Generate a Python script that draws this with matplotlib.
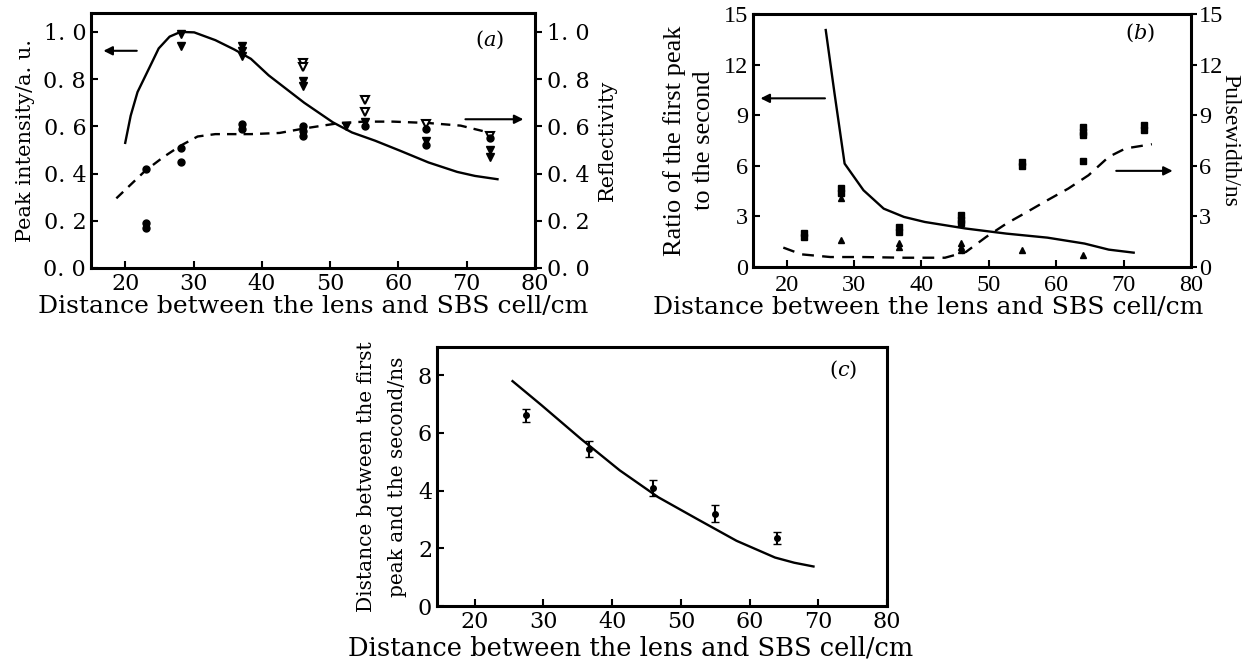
import matplotlib.pyplot as plt

plt.rcParams['font.family'] = 'DejaVu Serif'
plt.rcParams['mathtext.fontset'] = 'dejavuserif'

# ---------- (a) data ----------
a_fit_x = [20, 20.8, 21.8, 23.9, 24.9, 26.5, 28.1, 30.1, 33.2, 36.0, 38.4, 41.0, 46.2, 50.4, 53.2, 56.6, 60.3, 64.4, 68.6, 71.2, 74.5]
a_fit_peak = [0.53, 0.645, 0.745, 0.87, 0.93, 0.98, 1.0, 0.998, 0.965, 0.925, 0.886, 0.816, 0.70, 0.617, 0.574, 0.539, 0.496, 0.447, 0.407, 0.39, 0.376]
a_fit_rx = [18.7, 22.9, 25.5, 28.1, 30.6, 33.2, 38.4, 42.6, 46.2, 51.4, 55.1, 59.2, 64.4, 69.1, 73.2]
a_fit_refl = [0.295, 0.411, 0.468, 0.518, 0.557, 0.567, 0.567, 0.572, 0.591, 0.614, 0.62, 0.62, 0.614, 0.603, 0.574]

a_peak_x = [28.1, 28.1, 37.1, 37.1, 37.1, 46.0, 46.0, 52.3, 55.1, 64.0, 73.4, 73.4]
a_peak_y = [0.99, 0.94, 0.94, 0.92, 0.90, 0.79, 0.77, 0.60, 0.62, 0.54, 0.50, 0.47]
a_open_x = [46.0, 46.0, 55.1, 55.1, 64.0, 73.4]
a_open_y = [0.87, 0.85, 0.71, 0.66, 0.61, 0.56]
a_refl_x = [23.0, 23.0, 23.0, 28.1, 28.1, 37.1, 37.1, 46.0, 46.0, 46.0, 55.1, 64.0, 64.0, 73.4]
a_refl_y = [0.42, 0.19, 0.17, 0.51, 0.45, 0.61, 0.59, 0.60, 0.58, 0.56, 0.60, 0.59, 0.52, 0.55]

# ---------- (b) data ----------
b_fit_x = [25.8, 27.1, 28.6, 31.4, 34.4, 37.4, 40.5, 46.6, 52.6, 58.7, 64.2, 67.8, 71.5]
b_fit_ratio = [14.05, 10.3, 6.13, 4.55, 3.46, 2.97, 2.67, 2.28, 1.98, 1.74, 1.39, 1.03, 0.85]
b_fit_px = [19.5, 22.2, 26.5, 31.4, 37.4, 43.5, 46.6, 49.6, 52.6, 55.7, 58.7, 61.8, 64.8, 67.8, 70.3, 74.2]
b_fit_pulse = [1.15, 0.75, 0.59, 0.59, 0.55, 0.55, 0.89, 1.78, 2.57, 3.27, 3.96, 4.65, 5.44, 6.53, 7.03, 7.28]

b_ratio_x = [22.5, 22.5, 28.0, 28.0, 36.6, 36.6, 45.8, 45.8, 45.8, 55.0, 55.0, 64.0, 64.0, 64.0, 64.0, 73.1, 73.1]
b_ratio_y = [2.0, 1.8, 4.7, 4.4, 2.4, 2.1, 3.1, 2.8, 2.6, 6.2, 6.0, 8.3, 8.0, 7.8, 6.3, 8.4, 8.1]
b_pulse_x = [28.0, 28.0, 36.6, 36.6, 45.8, 45.8, 45.8, 55.0, 64.0]
b_pulse_y = [4.1, 1.6, 1.4, 1.2, 1.4, 1.2, 1.0, 1.0, 0.7]

# ---------- (c) data ----------
c_fit_x = [25.5, 29.7, 35.4, 41.1, 46.7, 52.4, 58.1, 63.7, 66.5, 69.3]
c_fit_y = [7.79, 6.96, 5.80, 4.70, 3.77, 3.01, 2.26, 1.68, 1.50, 1.37]
c_x = [27.5, 36.7, 46.0, 55.0, 64.0]
c_y = [6.6, 5.45, 4.1, 3.2, 2.35]
c_err = [0.22, 0.28, 0.28, 0.3, 0.2]

xlab = "Distance between the lens and SBS cell/cm"
a_ticks = ["0. 0", "0. 2", "0. 4", "0. 6", "0. 8", "1. 0"]

fig = plt.figure(figsize=(12.56, 6.64), dpi=100)


def style(ax, fs=16):
    for s in ax.spines.values():
        s.set_linewidth(2.2)
    ax.tick_params(direction='in', width=1.5, length=5, labelsize=fs)


def arrow(ax, x0, x1, y):
    ax.annotate("", xy=(x1, y), xytext=(x0, y),
                arrowprops=dict(arrowstyle='-|>', color='black', lw=1.5, mutation_scale=13))


# ---------- (a) ----------
ax = fig.add_axes([0.0725, 0.5964, 0.3535, 0.384])
ax.plot(a_fit_x, a_fit_peak, color='black', lw=1.7)
ax.plot(a_fit_rx, a_fit_refl, color='black', lw=1.7, ls=(0, (4, 3)))
ax.plot(a_peak_x, a_peak_y, 'v', color='black', ms=6)
ax.plot(a_open_x, a_open_y, 'v', mfc='white', mec='black', mew=1.5, ms=6)
ax.plot(a_refl_x, a_refl_y, 'o', color='black', ms=5)
ax.set_xlim(15, 80)
ax.set_ylim(0, 1.08)
ax.set_xticks([20, 30, 40, 50, 60, 70, 80])
ax.set_yticks([0, 0.2, 0.4, 0.6, 0.8, 1.0])
ax.set_yticklabels(a_ticks)
style(ax)
ax.set_xlabel(xlab, fontsize=18, labelpad=0)
ax.set_ylabel("Peak intensity/a. u.", fontsize=15, labelpad=6)
arrow(ax, 22.1, 16.4, 0.92)
arrow(ax, 69.4, 78.7, 0.63)
ax.text(73.4, 0.966, "($a$)", fontsize=15, ha='center', va='center')
axr = ax.twinx()
axr.set_ylim(0, 1.08)
axr.set_yticks([0, 0.2, 0.4, 0.6, 0.8, 1.0])
axr.set_yticklabels(a_ticks)
axr.tick_params(direction='out', width=1.5, length=5, labelsize=16)
axr.set_ylabel("Reflectivity", fontsize=15, rotation=90, labelpad=6)

# ---------- (b) ----------
bx = fig.add_axes([0.5995, 0.5979, 0.3487, 0.381])
bx.plot(b_fit_x, b_fit_ratio, color='black', lw=1.7)
bx.plot(b_fit_px, b_fit_pulse, color='black', lw=1.7, ls=(0, (5, 3.5)))
bx.plot(b_ratio_x, b_ratio_y, 's', color='black', ms=5)
bx.plot(b_pulse_x, b_pulse_y, '^', color='black', ms=5)
bx.set_xlim(15, 80)
bx.set_ylim(0, 15)
bx.set_xticks([20, 30, 40, 50, 60, 70, 80])
bx.set_yticks([0, 3, 6, 9, 12, 15])
style(bx)
bx.tick_params(axis='x', pad=6)
for lab in bx.get_xticklabels() + bx.get_yticklabels():
    lab.set_family('Liberation Serif')
    lab.set_fontsize(17.5)
bx.set_xlabel(xlab, fontsize=18, labelpad=0)
bx.xaxis.set_label_coords(0.40, -0.115)
bx.set_ylabel("Ratio of the first peak\nto the second", fontsize=19,
              family='Liberation Serif', labelpad=6, linespacing=1.45)
arrow(bx, 26.1, 15.7, 10.0)
arrow(bx, 68.5, 77.7, 5.7)
bx.text(72.5, 13.9, "($b$)", fontsize=15, ha='center', va='center')
bxr = bx.twinx()
bxr.set_ylim(0, 15)
bxr.set_yticks([0, 3, 6, 9, 12, 15])
bxr.tick_params(direction='out', width=1.5, length=4, pad=2)
for lab in bxr.get_yticklabels():
    lab.set_family('Liberation Serif')
    lab.set_fontsize(17.5)
bxr.set_ylabel("Pulsewidth/ns", fontsize=17, family='Liberation Serif', rotation=-90)
bxr.yaxis.set_label_coords(1.112, 0.5)

# ---------- (c) ----------
cx = fig.add_axes([0.3479, 0.0873, 0.3583, 0.390])
cx.plot(c_fit_x, c_fit_y, color='black', lw=1.7)
cx.errorbar(c_x, c_y, yerr=c_err, fmt='o', color='black', ms=4, capsize=3, elinewidth=1.5)
cx.set_xlim(14.5, 80)
cx.set_ylim(0, 8.97)
cx.set_xticks([20, 30, 40, 50, 60, 70, 80])
cx.set_yticks([0, 2, 4, 6, 8])
style(cx)
cx.set_xlabel(xlab, fontsize=18.5, labelpad=0)
cx.xaxis.set_label_coords(0.43, -0.115)
cx.set_ylabel("Distance between the first\npeak and the second/ns", fontsize=14.5,
              labelpad=8, linespacing=1.8)
cx.text(73.6, 8.2, "($c$)", fontsize=15, ha='center', va='center')

fig.savefig("out.png", dpi=100)
